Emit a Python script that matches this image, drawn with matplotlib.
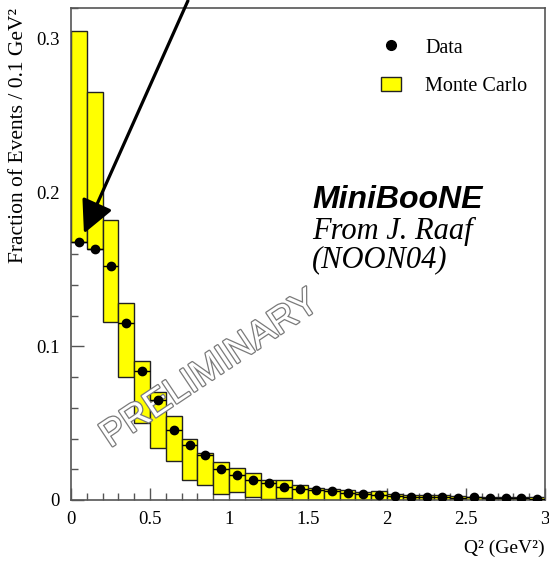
import matplotlib
matplotlib.use("Agg")
import matplotlib.pyplot as plt
import matplotlib.patheffects as pe
from matplotlib.patches import Rectangle, Patch
from matplotlib.lines import Line2D
from matplotlib.ticker import MultipleLocator
import numpy as np

# Q^2 binning (GeV^2), 0.1 GeV^2 wide bins from 0 to 3
bin_lo = np.round(np.arange(0.0, 3.0, 0.1), 2)
bin_width = 0.1

# Monte Carlo band: lower / upper edge of each bin
mc_low = [0.168, 0.163, 0.116, 0.080, 0.050, 0.0338, 0.0255, 0.013, 0.0096, 0.0037,
          0.0055, 0.0017, 0.0008, 0.001, 0.0, 0.0, 0.0, 0.0, 0.0, 0.0,
          0.0, 0.0, 0.0, 0.0, 0.0, 0.0, 0.0, 0.0, 0.0, 0.0]
mc_high = [0.305, 0.2656, 0.182, 0.128, 0.0905, 0.0703, 0.0545, 0.040, 0.0305, 0.025,
           0.021, 0.0178, 0.013, 0.013, 0.0096, 0.0078, 0.007, 0.0063, 0.0052, 0.0058,
           0.004, 0.0032, 0.003, 0.003, 0.0028, 0.0022, 0.002, 0.002, 0.0018, 0.0018]

# measured fraction of events per bin
data = [0.168, 0.163, 0.152, 0.115, 0.084, 0.065, 0.0458, 0.0355, 0.0294, 0.020,
        0.016, 0.013, 0.0108, 0.0082, 0.0073, 0.0063, 0.0057, 0.0045, 0.0037, 0.0032,
        0.0028, 0.0022, 0.0022, 0.0022, 0.0015, 0.0017, 0.0011, 0.0011, 0.0011, 0.0009]

plt.rcParams["font.family"] = ["Liberation Serif", "DejaVu Serif"]

fig = plt.figure(figsize=(5.49, 5.66), dpi=100)
ax = fig.add_axes([71 / 549, 66 / 566, 474 / 549, 492 / 566])

yellow = "#ffff00"
for lo, a, b in zip(bin_lo, mc_low, mc_high):
    ax.add_patch(Rectangle((lo, a), bin_width, b - a, facecolor=yellow,
                           edgecolor="#222222", linewidth=1.0, zorder=2))

centers = bin_lo + bin_width / 2
ax.errorbar(centers, data, xerr=bin_width / 2, fmt="o", color="black",
            markersize=6, elinewidth=1.0, capsize=0, zorder=5)

ax.set_xlim(0, 3)
ax.set_ylim(0, 0.32)

ax.xaxis.set_major_locator(MultipleLocator(0.5))
ax.xaxis.set_minor_locator(MultipleLocator(0.1))
ax.yaxis.set_major_locator(MultipleLocator(0.1))
ax.yaxis.set_minor_locator(MultipleLocator(0.02))
ax.set_xticks([0, 0.5, 1, 1.5, 2, 2.5, 3])
ax.set_xticklabels(["0", "0.5", "1", "1.5", "2", "2.5", "3"])
ax.set_yticks([0, 0.1, 0.2, 0.3])
ax.set_yticklabels(["0", "0.1", "0.2", "0.3"])
ax.tick_params(which="both", direction="in", color="#555555", labelsize=13.5)
ax.tick_params(which="major", length=9, width=1.0, pad=8)
ax.tick_params(which="minor", length=5, width=1.0)
for sp in ax.spines.values():
    sp.set_color("#555555")
    sp.set_linewidth(1.2)

ax.set_xlabel("Q² (GeV²)", fontsize=14, loc="right", labelpad=8)
ax.set_ylabel("Fraction of Events / 0.1 GeV²", fontsize=15.5, loc="top", labelpad=6)

# legend
handles = [Line2D([], [], marker="o", linestyle="none", color="black", markersize=7),
           Patch(facecolor=yellow, edgecolor="#222222", linewidth=1.0)]
ax.legend(handles, ["Data", "Monte Carlo"], loc="upper left",
          bbox_to_anchor=(0.615, 0.975), frameon=False, fontsize=14.5,
          labelspacing=0.95, handlelength=1.0, handletextpad=1.2)

# experiment / source annotation
ax.text(1.525, 0.1896, "MiniBooNE", family="Liberation Sans", fontsize=23,
        fontweight="bold", fontstyle="italic", va="baseline", zorder=6)
ax.text(1.525, 0.170, "From J. Raaf", fontsize=22, fontstyle="italic",
        va="baseline", zorder=6)
ax.text(1.525, 0.1513, "(NOON04)", fontsize=22, fontstyle="italic",
        va="baseline", zorder=6)

# hollow watermark
ax.text(0.88, 0.085, "PRELIMINARY", family="Liberation Sans", fontsize=27,
        rotation=33.7, rotation_mode="anchor", ha="center", va="center",
        color="white", zorder=4,
        path_effects=[pe.withStroke(linewidth=1.8, foreground="#7a7a7a")])

# arrow pointing at the first data bin
ax.annotate("", xy=(0.082, 0.1734), xytext=(0.74, 0.3247),
            arrowprops=dict(arrowstyle="-|>,head_length=1.0,head_width=0.5",
                            color="black", lw=2.3, shrinkA=0, shrinkB=0,
                            mutation_scale=20),
            annotation_clip=False, zorder=7)

fig.savefig("out.png", dpi=100)
